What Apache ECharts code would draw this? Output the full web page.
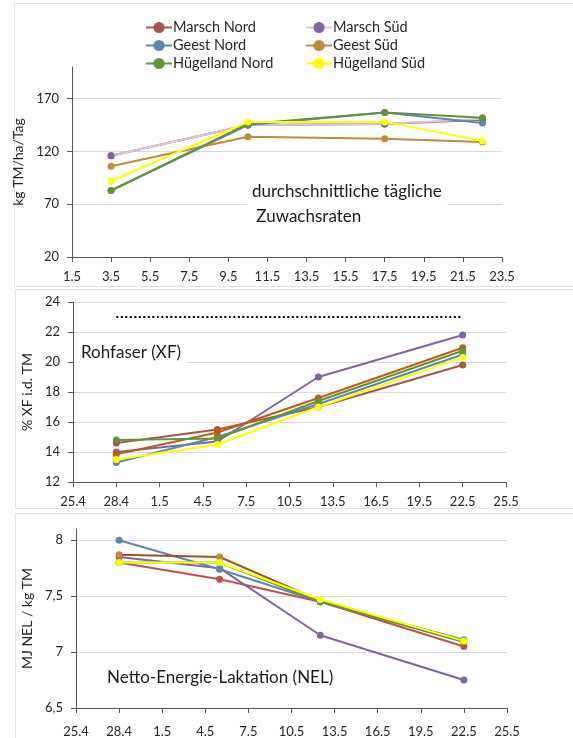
<!DOCTYPE html>
<html>
<head>
<meta charset="utf-8">
<script src="https://cdn.jsdelivr.net/npm/echarts@6/dist/echarts.min.js"></script>
<style>
html,body{margin:0;padding:0;background:#fff;}
#c{width:573px;height:738px;}
</style>
</head>
<body>
<div id="c"></div>
<script>
// ---- data ----
var seriesNames = ["Marsch Nord","Marsch Süd","Geest Nord","Geest Süd","Hügelland Nord","Hügelland Süd"];

// panel 1: daily growth rates (x = days after 1.5)
var x1Labels = ["1.5","3.5","5.5","7.5","9.5","11.5","13.5","15.5","17.5","19.5","21.5","23.5"];
var x1Days = [2, 9, 16, 21];
var growthMarschNord = [116, 145, 146, 150];
var growthMarschSued = [116, 145, 146, 151];
var growthGeestNord = [83, 145, 157, 147];
var growthGeestSued = [106, 134, 132, 129];
var growthHuegelNord = [83, 146, 157, 152];
var growthHuegelSued = [92, 148, 148, 130];

// panels 2 & 3 (x = days after 25.4)
var x2Labels = ["25.4","28.4","1.5","4.5","7.5","10.5","13.5","16.5","19.5","22.5","25.5"];
var x2Days = [3, 10, 17, 27];

var xfMarschNord = [14.6, 15.5, 17.0, 19.8];
var xfMarschSued = [14.0, 14.7, 19.0, 21.8];
var xfGeestNord = [13.3, 15.0, 17.2, 20.5];
var xfGeestSued = [13.85, 15.3, 17.6, 20.95];
var xfHuegelNord = [14.8, 14.9, 17.4, 20.75];
var xfHuegelSued = [13.5, 14.5, 17.0, 20.3];
var xfLimitDays = [3, 27];
var xfLimit = [23, 23];

var nelMarschNord = [7.80, 7.65, 7.45, 7.05];
var nelMarschSued = [7.85, 7.75, 7.15, 6.75];
var nelGeestNord = [8.00, 7.74, 7.45, 7.11];
var nelGeestSued = [7.87, 7.85, 7.46, 7.10];
var nelHuegelNord = [7.80, 7.80, 7.45, 7.09];
var nelHuegelSued = [7.80, 7.80, 7.47, 7.10];

// ---- styles ----
var FONT = 'Lato';
var colors1 = {line:["#A8564B","#D6C6E0","#5B87B5","#C3883A","#629437","#FFFF00"],
               mark:["#A8564B","#8064A2","#5B87B5","#C3883A","#629437","#FFFF00"]};
var colors2 = {line:["#A8564B","#8064A2","#5B87B5","#C55A11","#629437","#FFFF00"],
               mark:["#A8564B","#8064A2","#5B87B5","#C55A11","#629437","#FFFF00"]};
var colors3 = {line:["#C0504D","#8064A2","#5B87B5","#A0521E","#629437","#FFFF00"],
               mark:["#C0504D","#8064A2","#5B87B5","#C0843C","#629437","#FFFF00"]};

function pairs(xs, ys){ return xs.map(function(x,i){return [x, ys[i]];}); }

function mk(idx, name, xs, ys, col, i){
  return {
    type:'line', name:name, xAxisIndex:idx, yAxisIndex:idx,
    data:pairs(xs, ys), symbol:'circle', symbolSize:7, showSymbol:true,
    lineStyle:{color:col.line[i], width:2},
    itemStyle:{color:col.mark[i]},
    emphasis:{disabled:true}, animation:false, z: 2 + i
  };
}

var p1 = [growthMarschNord,growthMarschSued,growthGeestNord,growthGeestSued,growthHuegelNord,growthHuegelSued];
var p2 = [xfMarschNord,xfMarschSued,xfGeestNord,xfGeestSued,xfHuegelNord,xfHuegelSued];
var p3 = [nelMarschNord,nelMarschSued,nelGeestNord,nelGeestSued,nelHuegelNord,nelHuegelSued];

var series = [];
seriesNames.forEach(function(n,i){ series.push(mk(0,n,x1Days,p1[i],colors1,i)); });
seriesNames.forEach(function(n,i){ series.push(mk(1,n,x2Days,p2[i],colors2,i)); });
seriesNames.forEach(function(n,i){ series.push(mk(2,n,x2Days,p3[i],colors3,i)); });
series.push({
  type:'line', name:'XF-Grenze', xAxisIndex:1, yAxisIndex:1,
  data:pairs(xfLimitDays, xfLimit), symbol:'none',
  lineStyle:{color:'#000', width:2, type:[2,2.5]}, animation:false, silent:true
});

var axisCol = '#595959';
var txtCol = '#262626';
function xAx(idx, max, interval, labels, margin){
  return {
    type:'value', gridIndex:idx, min:0, max:max, interval:interval,
    axisLine:{show:true, lineStyle:{color:axisCol, width:1}},
    axisTick:{show:true, inside:false, length:5, lineStyle:{color:axisCol}},
    splitLine:{show:false},
    axisLabel:{margin:margin, color:txtCol, fontFamily:FONT, fontSize:13,
      formatter:function(v){ return labels[Math.round(v/interval)]; },
      showMinLabel:true, showMaxLabel:true}
  };
}
function yAx(idx, min, max, interval, name, gap, fmt, hideMax){
  return {
    type:'value', gridIndex:idx, min:min, max:max, interval:interval,
    name:name, nameLocation:'middle', nameGap:gap, nameRotate:90,
    nameTextStyle:{color:txtCol, fontFamily:FONT, fontSize:14},
    axisLine:{show:true, lineStyle:{color:axisCol, width:1}},
    axisTick:{show:true, inside:false, length:5, lineStyle:{color:axisCol}},
    splitLine:{show:true, showMaxLine:!hideMax, lineStyle:{color:'#D9D9D9', width:1}},
    axisLabel:{margin:13, color:txtCol, fontFamily:FONT, fontSize:13,
      showMaxLabel:!hideMax, formatter:fmt}
  };
}

var chart = echarts.init(document.getElementById('c'), null, {renderer:'canvas'});
chart.setOption({
  backgroundColor:'#fff',
  animation:false,
  textStyle:{fontFamily:FONT},
  grid:[
    {left:72, top:67, width:430, height:190},
    {left:73, top:302, width:433, height:180},
    {left:76, top:529, width:431, height:183}
  ],
  xAxis:[
    xAx(0, 22, 2, x1Labels, 13),
    xAx(1, 30, 3, x2Labels, 13),
    xAx(2, 30, 3, x2Labels, 17)
  ],
  yAxis:[
    yAx(0, 20, 200, 50, 'kg TM/ha/Tag', 36, function(v){return String(v);}, true),
    yAx(1, 12, 24, 2, '% XF i.d. TM', 35, function(v){return String(v);}, false),
    yAx(2, 6.5, 8.1, 0.5, 'MJ NEL / kg TM', 37, function(v){return String(v).replace('.',',');}, true)
  ],
  legend:[
    {left:140, top:15, orient:'vertical', itemGap:3, itemWidth:26, itemHeight:14,
     data:["Marsch Nord","Geest Nord","Hügelland Nord"], selectedMode:false,
     textStyle:{fontFamily:FONT, fontSize:14.5, color:txtCol, padding:[0,0,0,-4]}},
    {left:300, top:15, orient:'vertical', itemGap:3, itemWidth:26, itemHeight:14,
     data:["Marsch Süd","Geest Süd","Hügelland Süd"], selectedMode:false,
     textStyle:{fontFamily:FONT, fontSize:14.5, color:txtCol, padding:[0,0,0,-4]}}
  ],
  title:[
    {text:'durchschnittliche tägliche\n Zuwachsraten', left:247, top:177,
     backgroundColor:'#fff', padding:[2,6,4,5],
     textStyle:{fontFamily:FONT, fontSize:17, fontWeight:'normal', color:'#1a1a1a', lineHeight:25}},
    {text:'Rohfaser (XF)', left:74, top:339,
     backgroundColor:'#fff', padding:[3,6,4,7],
     textStyle:{fontFamily:FONT, fontSize:17, fontWeight:'normal', color:'#1a1a1a', lineHeight:22}},
    {text:'Netto-Energie-Laktation (NEL)', left:102, top:665,
     backgroundColor:'#fff', padding:[2,5,3,5],
     textStyle:{fontFamily:FONT, fontSize:17, fontWeight:'normal', color:'#1a1a1a', lineHeight:22}}
  ],
  graphic:[
    {type:'rect', shape:{x:14.5, y:3.5, width:600, height:283}, style:{fill:'none', stroke:'#E3E3E3', lineWidth:1}, silent:true, z:-1},
    {type:'rect', shape:{x:15.5, y:289.5, width:600, height:219}, style:{fill:'none', stroke:'#E3E3E3', lineWidth:1}, silent:true, z:-1},
    {type:'rect', shape:{x:15.5, y:513.5, width:600, height:240}, style:{fill:'none', stroke:'#E3E3E3', lineWidth:1}, silent:true, z:-1}
  ],
  series:series
});
</script>
</body>
</html>
